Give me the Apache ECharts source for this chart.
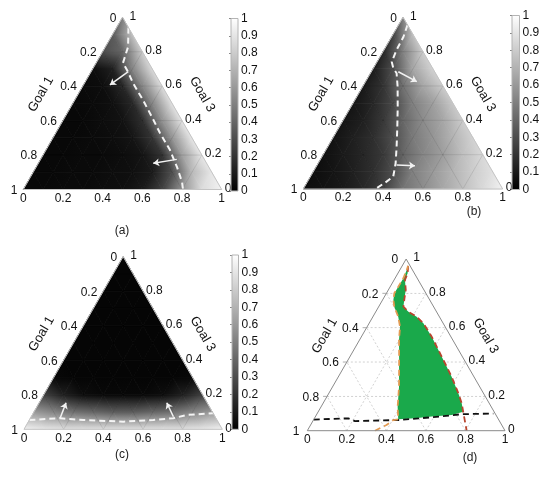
<!DOCTYPE html>
<html>
<head>
<meta charset="utf-8">
<script src="https://cdn.jsdelivr.net/npm/echarts@6/dist/echarts.min.js"></script>
<style>
  html, body { margin: 0; padding: 0; background: #fff; }
  #chart { width: 550px; height: 479px; }
</style>
</head>
<body>
<div id="chart"></div>
<script>
// tick labels shared by the three ternary axes
const tickValues = [0, 0.2, 0.4, 0.6, 0.8, 1];
const tickLabels = ['0', '0.2', '0.4', '0.6', '0.8', '1'];
const axisNames = ['Goal 1', 'Goal 3'];
const captions = ['(a)', '(b)', '(c)', '(d)'];

// gray level (0..1) on a 10 step ternary grid: row 0 is the apex, row 10 the bottom edge
const fieldA = [
  [0.5],
  [0.35, 0.75],
  [0.3, 0.4, 0.8],
  [0.05, 0.12, 0.52, 0.85],
  [0.04, 0.05, 0.15, 0.52, 0.86],
  [0.03, 0.04, 0.06, 0.15, 0.52, 0.88],
  [0.03, 0.03, 0.05, 0.07, 0.18, 0.57, 0.89],
  [0.03, 0.03, 0.04, 0.05, 0.08, 0.2, 0.58, 0.9],
  [0.03, 0.03, 0.04, 0.04, 0.05, 0.08, 0.2, 0.62, 0.9],
  [0.03, 0.03, 0.04, 0.04, 0.05, 0.06, 0.1, 0.3, 0.72, 0.9],
  [0.03, 0.03, 0.04, 0.04, 0.05, 0.06, 0.1, 0.25, 0.57, 0.86, 0.95]
];
const fieldB = [
  [0.5],
  [0.25, 0.75],
  [0.15, 0.5, 0.8],
  [0.1, 0.3, 0.65, 0.82],
  [0.1, 0.2, 0.45, 0.65, 0.8],
  [0.08, 0.15, 0.28, 0.5, 0.62, 0.78],
  [0.08, 0.12, 0.22, 0.4, 0.55, 0.65, 0.8],
  [0.07, 0.12, 0.18, 0.3, 0.48, 0.58, 0.7, 0.82],
  [0.06, 0.1, 0.15, 0.22, 0.4, 0.52, 0.62, 0.75, 0.85],
  [0.05, 0.08, 0.12, 0.18, 0.3, 0.5, 0.6, 0.7, 0.8, 0.88],
  [0.05, 0.07, 0.1, 0.15, 0.25, 0.45, 0.55, 0.65, 0.75, 0.85, 0.95]
];
const fieldC = [
  [0.02],
  [0.02, 0.02],
  [0.02, 0.02, 0.02],
  [0.02, 0.02, 0.02, 0.02],
  [0.02, 0.02, 0.02, 0.02, 0.02],
  [0.02, 0.02, 0.02, 0.02, 0.02, 0.02],
  [0.02, 0.02, 0.02, 0.02, 0.02, 0.02, 0.02],
  [0.03, 0.02, 0.02, 0.02, 0.02, 0.02, 0.02, 0.03],
  [0.25, 0.12, 0.05, 0.03, 0.03, 0.03, 0.05, 0.12, 0.25],
  [0.6, 0.52, 0.44, 0.4, 0.36, 0.36, 0.4, 0.44, 0.52, 0.6],
  [0.95, 0.9, 0.88, 0.88, 0.88, 0.88, 0.88, 0.88, 0.88, 0.9, 0.95]
];

// dashed boundaries, as (Goal 1, Goal 3) pairs
const lineAG1 = [0, 0.058, 0.13, 0.131, 0.138, 0.137, 0.141, 0.147, 0.146, 0.16, 0.178, 0.195];
const lineAG3 = [0.94, 0.828, 0.735, 0.682, 0.618, 0.52, 0.421, 0.328, 0.229, 0.131, 0.044, 0];
const lineBG1 = [0, 0.054, 0.127, 0.186, 0.197, 0.195, 0.229, 0.287, 0.347, 0.409, 0.462, 0.513, 0.561, 0.638];
const lineBG3 = [0.955, 0.887, 0.81, 0.741, 0.703, 0.674, 0.596, 0.479, 0.363, 0.246, 0.15, 0.072, 0.043, 0];
const lineCG1 = [0.946, 0.786, 0.674, 0.477, 0.321, 0.215, 0.139, 0];
const lineCG3 = [0.054, 0.064, 0.054, 0.044, 0.054, 0.064, 0.083, 0.093];

// arrows: [from, to] in (Goal 1, Goal 3)
const arrowsA = [[[0.129, 0.684], [0.26, 0.607]], [[0.139, 0.175], [0.269, 0.152]]];
const arrowsB = [[[0.182, 0.683], [0.118, 0.625]], [[0.462, 0.14], [0.372, 0.136]]];
const arrowsC = [[[0.786, 0.064], [0.711, 0.154]], [[0.21, 0.073], [0.203, 0.154]]];

// panel (d): feasible region and the three boundaries
const regionG1 = [0.01, 0.034, 0.067, 0.092, 0.123, 0.153, 0.142, 0.115, 0.10, 0.097, 0.102, 0.107, 0.113, 0.127, 0.139, 0.156,
  0.224, 0.33, 0.419, 0.507, 0.473, 0.408, 0.32, 0.272, 0.228, 0.208, 0.199, 0.184, 0.16, 0.12, 0.07, 0.029];
const regionG3 = [0.96, 0.917, 0.878, 0.82, 0.771, 0.722, 0.693, 0.664, 0.626, 0.547, 0.47, 0.393, 0.315, 0.218, 0.16, 0.111,
  0.091, 0.082, 0.072, 0.066, 0.14, 0.256, 0.431, 0.528, 0.606, 0.664, 0.722, 0.761, 0.8, 0.839, 0.888, 0.936];
const redG1 = [0.01, 0.034, 0.067, 0.092, 0.123, 0.153, 0.142, 0.115, 0.10, 0.097, 0.102, 0.107, 0.113, 0.127, 0.139, 0.156, 0.194];
const redG3 = [0.96, 0.917, 0.878, 0.82, 0.771, 0.722, 0.693, 0.664, 0.626, 0.547, 0.47, 0.393, 0.315, 0.218, 0.16, 0.111, 0];
const orangeG1 = [0.658, 0.583, 0.534, 0.507, 0.473, 0.408, 0.32, 0.272, 0.228, 0.208, 0.199, 0.184, 0.16, 0.12, 0.07, 0.029, 0.01];
const orangeG3 = [0, 0.033, 0.062, 0.066, 0.14, 0.256, 0.431, 0.528, 0.606, 0.664, 0.722, 0.761, 0.8, 0.839, 0.888, 0.936, 0.96];
const blackG1 = [0.935, 0.757, 0.731, 0.509, 0.332, 0.171, 0.009];
const blackG3 = [0.065, 0.072, 0.056, 0.062, 0.078, 0.096, 0.10];

const FONT = 'Liberation Sans, Arial, sans-serif';
const N = 10;

// triangle boxes (left, top, width, height) and colorbars
const panels = [
  [23.3, 17.3, 198.4, 172.2],
  [303.3, 17.3, 199.4, 171.7],
  [24, 256.7, 198.3, 172.6],
  [307.3, 259, 197.7, 171.7]
];
const bars = [
  [231, 18.5, 7, 172.5],
  [512, 15.5, 7.5, 174],
  [232, 255, 6.5, 174.3]
];
const capPos = [[122, 231], [474, 212], [122, 455], [470, 458]];

// ternary (Goal 1, Goal 3) -> cartesian (x, y) in 0..1
function tern(g1, g3) { return [1 - g1 - g3 / 2, g3]; }
function node(i, j) { return tern((i - j) / N, 1 - i / N); }
function pts(g1s, g3s) { return g1s.map((g, k) => tern(g, g3s[k])); }

const tris = [];
for (let i = 0; i < N; i++) {
  for (let j = 0; j <= i; j++) {
    tris.push([[i, j], [i + 1, j], [i + 1, j + 1]]);
    if (j < i) tris.push([[i, j], [i, j + 1], [i + 1, j + 1]]);
  }
}

function gray(v) {
  const c = Math.round(255 * Math.max(0, Math.min(1, v)));
  return 'rgb(' + c + ',' + c + ',' + c + ')';
}

// linear shading across one small triangle
function shade(p, f) {
  const dx1 = p[1][0] - p[0][0], dy1 = p[1][1] - p[0][1];
  const dx2 = p[2][0] - p[0][0], dy2 = p[2][1] - p[0][1];
  const df1 = f[1] - f[0], df2 = f[2] - f[0];
  const det = dx1 * dy2 - dx2 * dy1;
  const a = (df1 * dy2 - df2 * dy1) / det;
  const b = (dx1 * df2 - dx2 * df1) / det;
  const g2 = a * a + b * b;
  const lo = Math.min(...f), hi = Math.max(...f);
  if (hi - lo < 1e-4 || g2 < 1e-12) return gray(lo);
  const s = p[f.indexOf(lo)];
  const k = (hi - lo) / g2;
  return new echarts.graphic.LinearGradient(s[0], s[1], s[0] + a * k, s[1] + b * k,
    [{ offset: 0, color: gray(lo) }, { offset: 1, color: gray(hi) }], true);
}

function fieldSeries(p, field) {
  return {
    type: 'custom', xAxisIndex: p, yAxisIndex: p, z: 1, silent: true, clip: false,
    data: tris.map(() => [0.5, 0.5]),
    renderItem(params, api) {
      const t = tris[params.dataIndex];
      const q = t.map(([i, j]) => api.coord(node(i, j)));
      const fill = shade(q, t.map(([i, j]) => field[i][j]));
      return { type: 'polygon', shape: { points: q }, style: { fill: fill, stroke: fill, lineWidth: 0.8 } };
    }
  };
}

function gridSeries(p, dotted) {
  return {
    type: 'custom', xAxisIndex: p, yAxisIndex: p, z: 2, silent: true, clip: false,
    data: [[0.5, 0.5]],
    renderItem(params, api) {
      const P = (g1, g3) => api.coord(tern(g1, g3));
      const style = dotted
        ? { stroke: '#c6c6c6', lineWidth: 0.8, lineDash: [2, 2] }
        : { stroke: 'rgba(0,0,0,0.13)', lineWidth: 0.8 };
      const kids = [];
      tickValues.slice(1, -1).forEach((t) => {
        [[P(1 - t, t), P(0, t)], [P(t, 0), P(t, 1 - t)], [P(1 - t, 0), P(0, 1 - t)]].forEach(([a, b]) => {
          kids.push({ type: 'line', shape: { x1: a[0], y1: a[1], x2: b[0], y2: b[1] }, style: style });
        });
      });
      return { type: 'group', children: kids };
    }
  };
}

function text(str, x, y, align, va, size, rot) {
  return {
    type: 'text', x: x, y: y, rotation: rot || 0,
    style: { text: str, fontSize: size || 12, fontFamily: FONT, fill: '#111', align: align, verticalAlign: va }
  };
}

function frameSeries(p, dark) {
  return {
    type: 'custom', xAxisIndex: p, yAxisIndex: p, z: 6, silent: true, clip: false,
    data: [[0.5, 0.5]],
    renderItem(params, api) {
      const P = (g1, g3) => api.coord(tern(g1, g3));
      const kids = [{
        type: 'polygon', shape: { points: [P(1, 0), P(0, 0), P(0, 1)] },
        style: { fill: 'none', stroke: dark ? '#8a8a8a' : '#c4c4c4', lineWidth: 1 }
      }];
      const lo = dark ? 8 : 6;
      tickValues.forEach((t, k) => {
        const b = P(1 - t, 0);
        kids.push(text(tickLabels[k], b[0], b[1] + 3, 'center', 'top'));
        const l = P(t, 1 - t);
        kids.push(text(tickLabels[k], l[0] - lo, l[1] + 1, 'right', 'middle'));
        const r = P(0, t);
        kids.push(text(tickLabels[k], r[0] + (k === 5 ? 7 : 3), r[1] - 1, 'left', 'middle'));
        if (dark && k > 0 && k < 5) {
          kids.push({ type: 'line', shape: { x1: l[0], y1: l[1], x2: l[0] - 4, y2: l[1] }, style: { stroke: '#999', lineWidth: 0.8 } });
        }
      });
      const ml = P(0.5, 0.5), mr = P(0, 0.5);
      kids.push(text(axisNames[0], ml[0] - 32, ml[1] - 9, 'center', 'middle', 13, Math.PI / 3));
      kids.push(text(axisNames[1], mr[0] + 30, mr[1] - 9, 'center', 'middle', 13, -Math.PI / 3));
      return { type: 'group', children: kids };
    }
  };
}

function dashLine(p, data, color, width) {
  return {
    type: 'line', xAxisIndex: p, yAxisIndex: p, z: 4, silent: true,
    data: data, showSymbol: false, symbol: 'none',
    lineStyle: { color: color, width: width, type: [6, 4] }
  };
}

function arrowSeries(p, arrows) {
  return {
    type: 'lines', coordinateSystem: 'cartesian2d', xAxisIndex: p, yAxisIndex: p, z: 5, silent: true,
    data: arrows.map((a) => ({ coords: a.map(([g1, g3]) => tern(g1, g3)) })),
    symbol: ['none', 'arrow'], symbolSize: 6,
    lineStyle: { color: '#f2f2f2', width: 1.5, opacity: 1, curveness: 0 }
  };
}

function barSeries(k) {
  return {
    type: 'custom', xAxisIndex: 4 + k, yAxisIndex: 4 + k, z: 7, silent: true, clip: false,
    data: [[0.5, 0.5]],
    renderItem(params, api) {
      const a = api.coord([0, 0]), b = api.coord([1, 1]);
      return {
        type: 'rect', shape: { x: a[0], y: b[1], width: b[0] - a[0], height: a[1] - b[1] },
        style: {
          fill: new echarts.graphic.LinearGradient(0, 1, 0, 0, [{ offset: 0, color: '#000' }, { offset: 1, color: '#fff' }]),
          stroke: '#b4b4b4', lineWidth: 1
        }
      };
    }
  };
}

const chart = echarts.init(document.getElementById('chart'));

const grid = panels.concat(bars).map(([l, t, w, h]) => ({ left: l, top: t, width: w, height: h, outerBoundsMode: 'none' }));
const xAxis = grid.map((g, k) => ({ type: 'value', gridIndex: k, min: 0, max: 1, show: false }));
const yAxis = grid.map((g, k) => k < 4
  ? { type: 'value', gridIndex: k, min: 0, max: 1, show: false }
  : {
      type: 'value', gridIndex: k, min: 0, max: 1, interval: 0.1, position: 'right',
      axisLine: { show: false }, splitLine: { show: false },
      axisTick: { show: true, inside: true, length: 2, lineStyle: { color: '#888' } },
      axisLabel: { margin: 3, fontSize: 12, fontFamily: FONT, color: '#111' }
    });

const fields = [fieldA, fieldB, fieldC];
const lines = [pts(lineAG1, lineAG3), pts(lineBG1, lineBG3), pts(lineCG1, lineCG3)];
const arrows = [arrowsA, arrowsB, arrowsC];

const series = [];
for (let p = 0; p < 3; p++) {
  series.push(fieldSeries(p, fields[p]), gridSeries(p, false), dashLine(p, lines[p], '#f4f4f4', 2),
    arrowSeries(p, arrows[p]), frameSeries(p, false), barSeries(p));
}
const region = pts(regionG1, regionG3);
series.push(gridSeries(3, true), {
  type: 'custom', xAxisIndex: 3, yAxisIndex: 3, z: 3, silent: true, clip: false,
  data: [[0.5, 0.5]],
  renderItem(params, api) {
    return { type: 'polygon', shape: { points: region.map((q) => api.coord(q)) }, style: { fill: '#1aa94b' } };
  }
},
  dashLine(3, pts(blackG1, blackG3), '#111', 1.8),
  dashLine(3, pts(redG1, redG3), '#b8452e', 1.8),
  dashLine(3, pts(orangeG1, orangeG3), '#e29a52', 1.8),
  frameSeries(3, true));

chart.setOption({
  animation: false,
  grid: grid,
  xAxis: xAxis,
  yAxis: yAxis,
  series: series,
  graphic: captions.map((c, k) => ({
    type: 'text', x: capPos[k][0], y: capPos[k][1],
    style: { text: c, fontSize: 12, fontFamily: FONT, fill: '#222', align: 'center', verticalAlign: 'middle' }
  }))
});
</script>
</body>
</html>
